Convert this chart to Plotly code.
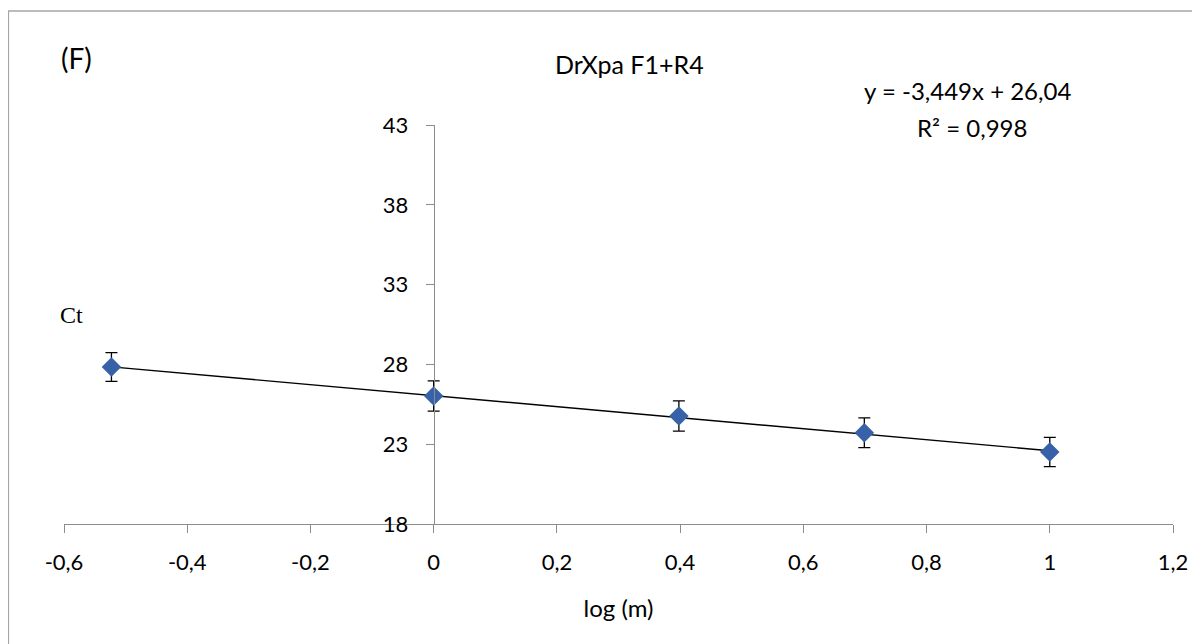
import plotly.graph_objects as go

# Data
log_m = [-0.523, 0.0, 0.398, 0.699, 1.0]
ct = [27.84, 26.02, 24.77, 23.72, 22.51]
ct_err = [0.9, 0.95, 0.95, 0.93, 0.92]
slope = -3.449
intercept = 26.04
r2 = 0.998
x_ticks = [-0.6, -0.4, -0.2, 0.0, 0.2, 0.4, 0.6, 0.8, 1.0, 1.2]
x_tick_text = ["-0,6", "-0,4", "-0,2", "0", "0,2", "0,4", "0,6", "0,8", "1", "1,2"]
y_ticks = [18, 23, 28, 33, 38, 43]

FONT = "Lato"
AX = "#8c8c8c"

# page offset (browser body margin)
OFF = 8
PL, PR, PT, PB = 64, 1180, 125, 524  # plot area in page pixels
PW, PH = PR - PL, PB - PT


def px(x):
    return (x - PL) / PW


def py(y):
    return (PB - y) / PH


trend_x = [min(log_m), max(log_m)]
trend_y = [slope * x + intercept for x in trend_x]

fig = go.Figure()
fig.add_trace(go.Scatter(
    x=trend_x, y=trend_y, mode="lines",
    line=dict(color="black", width=1.4), showlegend=False, hoverinfo="skip"))
fig.add_trace(go.Scatter(
    x=log_m, y=ct, mode="markers",
    marker=dict(symbol="diamond", size=15, color="#3862A8",
                line=dict(color="#3862A8", width=0)),
    error_y=dict(type="data", array=ct_err, visible=True,
                 color="black", thickness=1.3, width=6),
    showlegend=False))

W, H = 1200 - OFF, 644 - OFF
fig.update_layout(
    width=W, height=H,
    margin=dict(l=PL - OFF, r=(W + OFF) - PR, t=PT - OFF, b=(H + OFF) - PB),
    paper_bgcolor="white", plot_bgcolor="white",
    separators=", ",
    font=dict(family=FONT, size=22, color="black"),
    xaxis=dict(range=[-0.6, 1.2], tickvals=x_ticks, ticktext=x_tick_text,
               showgrid=False, zeroline=False, showline=True, linecolor=AX,
               linewidth=1, ticks="outside", ticklen=8, tickcolor=AX,
               ticklabelstandoff=11, tickfont=dict(size=22),
               title=dict(text="log (m)", font=dict(size=24), standoff=25)),
    yaxis=dict(range=[18, 43], tickvals=y_ticks, showgrid=False,
               zeroline=False, showline=True, linecolor=AX, linewidth=1,
               ticks="outside", ticklen=8, tickcolor=AX,
               tickfont=dict(size=22),
               anchor="free", position=(0 - (-0.6)) / 1.8,
               ticklabelstandoff=13),
)


def note(text, cx, cy, size, family=FONT):
    fig.add_annotation(text=text, xref="paper", yref="paper",
                       x=px(cx), y=py(cy), xanchor="center", yanchor="middle",
                       showarrow=False, font=dict(size=size, family=family))


note("(F)", 77, 58, 28)
note("DrXpa F1+R4", 633, 64, 25)
note("y = -3,449x + 26,04", 973, 91, 24)
note("R² = 0,998", 978, 127, 24)
note("Ct", 72, 315, 24, "Liberation Serif")

# chart border
fig.add_shape(type="rect", xref="paper", yref="paper",
              x0=px(8), y0=py(700), x1=px(1260), y1=py(11),
              line=dict(color="#a6a6a6", width=1.5), layer="below")

fig.write_html("out.html")
